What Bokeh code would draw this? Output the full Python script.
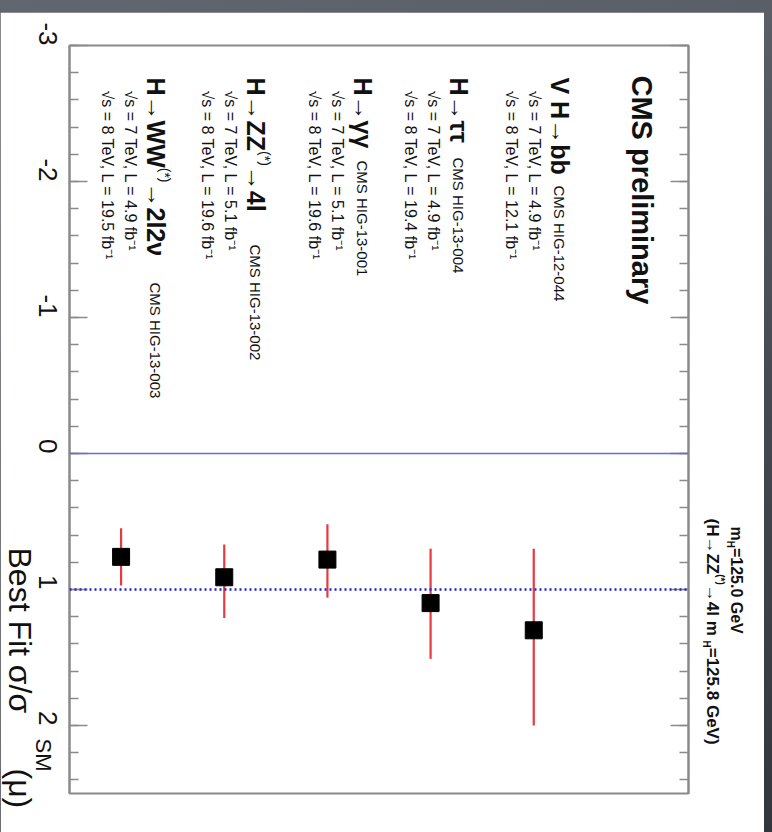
import math
from bokeh.plotting import figure
from bokeh.models import Range1d, FixedTicker, LinearAxis, Span, Label, ColumnDataSource
from bokeh.embed import file_html
from bokeh.resources import INLINE

# ---------------- data ----------------
channels = ["H→WW", "H→ZZ", "H→γγ", "H→ττ", "VH→bb"]
mu_best = [0.76, 0.91, 0.78, 1.10, 1.30]
mu_low = [0.55, 0.67, 0.52, 0.70, 0.70]
mu_high = [0.97, 1.21, 1.06, 1.51, 2.00]
refs = ["CMS HIG-13-003", "CMS HIG-13-002", "CMS HIG-13-001", "CMS HIG-13-004", "CMS HIG-12-044"]
lumi_7tev = ["4.9", "5.1", "5.1", "4.9", "4.9"]
lumi_8tev = ["19.5", "19.6", "19.6", "19.4", "12.1"]
mu_ticks = [-3, -2, -1, 0, 1, 2]
mu_tick_labels = ["-3", "-2", "-1", "0", "1", "2"]
mu_sm = 1.0
mu_zero = 0.0

# ---------------- geometry ----------------
FIG_W, FIG_H, PAGE_TOP = 764, 820, 12
FL, FR, FT, FB = 69, 688, 45, 793
XMAX = 6.0
YMIN, YMAX = -3.0, 2.5
FONT = "Liberation Sans"

def px_x(sx):
    return (sx - FL) / (FR - FL) * XMAX

def px_y(sy):
    return YMIN + (sy - FT) / (FB - FT) * (YMAX - YMIN)

# approximate Arial / Liberation Sans advance widths (em)
W_REG = {" ": .278, "(": .333, ")": .333, "*": .389, "=": .584, ".": .278, ",": .278, "-": .333,
         "/": .278, "B": .667, "C": .722, "F": .611, "G": .778, "H": .722, "I": .278, "L": .556,
         "M": .833, "S": .667, "T": .611, "V": .667, "W": .944, "Z": .611, "a": .556, "b": .556,
         "e": .556, "f": .278, "i": .222, "l": .222, "m": .833, "n": .556, "p": .556, "r": .333,
         "s": .5, "t": .278, "y": .5, "σ": .57, "μ": .576, "γ": .5, "τ": .44, "ν": .5, "→": 1.0,
         "√": .55, "⁻": .33, "¹": .33}
W_BOLD = dict(W_REG, **{"b": .611, "l": .278, "m": .889, "γ": .556, "τ": .5, "ν": .556,
                        "r": .389, "i": .278, "n": .611, "p": .611, "y": .556})

def text_w(t, size, bold):
    tab = W_BOLD if bold else W_REG
    return sum(tab.get(c, .556) for c in t) * size

# ---------------- main figure ----------------
p = figure(width=FIG_W, height=FIG_H, output_backend="svg", toolbar_location=None,
           x_range=Range1d(0, XMAX), y_range=Range1d(YMAX, YMIN),
           x_axis_location=None,
           min_border_left=FL, min_border_right=FIG_W - FR,
           min_border_top=FT - PAGE_TOP, min_border_bottom=832 - FB,
           background_fill_color="white", border_fill_color="white")
p.styles = {"margin-top": f"{PAGE_TOP}px"}
p.xgrid.visible = False
p.ygrid.visible = False
p.outline_line_color = "#8a8a8a"
p.outline_line_width = 2

minor = [round(YMIN + 0.2 * i, 1) for i in range(28)]
ax = p.yaxis[0]
ax.ticker = FixedTicker(ticks=mu_ticks, minor_ticks=minor)
ax.major_label_overrides = {t: l for t, l in zip(mu_ticks, mu_tick_labels)}
ax.major_label_orientation = -math.pi / 2
ax.major_label_text_font = FONT
ax.major_label_text_font_size = "26px"
ax.major_label_text_color = "#111111"
ax.major_label_standoff = 22
ax.major_tick_in = 18
ax.major_tick_out = 0
ax.minor_tick_in = 9
ax.minor_tick_out = 0
ax.major_tick_line_color = "#8a8a8a"
ax.minor_tick_line_color = "#8a8a8a"
ax.major_tick_line_width = 1.5
ax.minor_tick_line_width = 1.5
ax.axis_line_color = "#8a8a8a"
ax.axis_line_width = 2

rax = LinearAxis(ticker=FixedTicker(ticks=mu_ticks, minor_ticks=minor),
                 major_label_text_color=None, major_label_standoff=0,
                 major_tick_in=18, major_tick_out=0, minor_tick_in=9, minor_tick_out=0,
                 major_tick_line_color="#8a8a8a", minor_tick_line_color="#8a8a8a",
                 major_tick_line_width=1.5, minor_tick_line_width=1.5,
                 axis_line_color="#8a8a8a", axis_line_width=2)
p.add_layout(rax, "right")

p.add_layout(Span(location=mu_zero, dimension="width", line_color="#6a6ade", line_width=1.5))
p.add_layout(Span(location=mu_sm, dimension="width", line_color="#2222cc", line_width=2.5,
                  line_dash="2 3"))

xpos = [i + 0.5 for i in range(len(channels))]
src = ColumnDataSource(dict(x=xpos, mu=mu_best, lo=mu_low, hi=mu_high))
p.segment(x0="x", y0="lo", x1="x", y1="hi", source=src, line_color="#e8393f", line_width=2.2)
p.scatter(x="x", y="mu", source=src, marker="square", size=17, fill_color="black",
          line_color="black")

def lab_main(sx, sy, text, size, bold=False):
    p.add_layout(Label(x=px_x(sx), y=px_y(sy), text=text, angle=-math.pi / 2,
                       text_align="left", text_baseline="middle", text_font=FONT,
                       text_font_size=f"{size}px",
                       text_font_style="bold" if bold else "normal", text_color="#111111"))

def flow(lab_fn, sx, sy, pieces):
    """pieces: (text, size, bold, x_offset); laid out top to bottom"""
    y = sy
    for t, sz, b, off in pieces:
        lab_fn(sx + off, y, t, sz, b)
        y += text_w(t, sz, b)
    return y

lab_main(641, 75, "CMS preliminary", 29, True)

HS, SS = 25, 14
head_x = [155, 255, 362, 458, 559]
head_pieces = [
    [("H→WW", HS, True, 0), ("(*)", SS, False, 9), (" →2l2ν", HS, True, 0)],
    [("H→ZZ", HS, True, 0), ("(*)", SS, False, 9), (" →4l", HS, True, 0)],
    [("H→γγ", HS, True, 0)],
    [("H→ττ", HS, True, 0)],
    [("V H→bb", HS, True, 0)],
]
ref_y = [282, 244, 160, 157, 185]
for i in range(len(channels)):
    X = head_x[i]
    end = flow(lab_main, X, 77, head_pieces[i])
    lab_main(X, max(ref_y[i], end + 10), refs[i], 15)
    lab_main(X - 25, 90, f"√s = 7 TeV, L = {lumi_7tev[i]} fb⁻¹", 16)
    lab_main(X - 48, 90, f"√s = 8 TeV, L = {lumi_8tev[i]} fb⁻¹", 16)

# ---------------- overlay for texts outside the frame ----------------
ov = figure(width=FIG_W, height=FIG_H, output_backend="svg", toolbar_location=None,
            x_range=Range1d(0, FIG_W), y_range=Range1d(FIG_H, 0),
            x_axis_location=None, y_axis_location=None,
            min_border_left=0, min_border_right=0, min_border_top=0, min_border_bottom=0,
            background_fill_alpha=0, border_fill_alpha=0, outline_line_color=None)
ov.xgrid.visible = False
ov.ygrid.visible = False
ov.styles = {"position": "absolute", "top": f"{PAGE_TOP}px", "left": "0px",
             "pointer-events": "none"}

def lab_ov(sx, sy, text, size, bold=False):
    ov.add_layout(Label(x=sx, y=sy - PAGE_TOP, text=text, angle=-math.pi / 2,
                        text_align="left", text_baseline="middle", text_font=FONT,
                        text_font_size=f"{size}px",
                        text_font_style="bold" if bold else "normal", text_color="#111111"))

# axis title
lab_ov(19, 547, "Best Fit σ/σ", 32)
lab_ov(43, 738, "SM", 22)
lab_ov(19, 768, "(μ)", 32)
# mass labels
flow(lab_ov, 736, 526, [("m", 16, True, 0), ("H", 10, True, -6), ("=125.0 GeV", 16, True, 0)])
flow(lab_ov, 712, 518, [("(H→ZZ", 17, True, 0), ("(*)", 10, True, 8), (" →4l m", 17, True, 0),
                        ("H", 10, True, -6), ("=125.8 GeV)", 17, True, 0)])

html = file_html([p, ov], INLINE, title="CMS summary")
html = html.replace("<head>", "<head><style>html,body{margin:0;padding:0;"
                    "background:linear-gradient(170deg,#62666f 0%,#43464e 60%,#33363c 100%);}</style>", 1)
open("out.html", "w").write(html)
